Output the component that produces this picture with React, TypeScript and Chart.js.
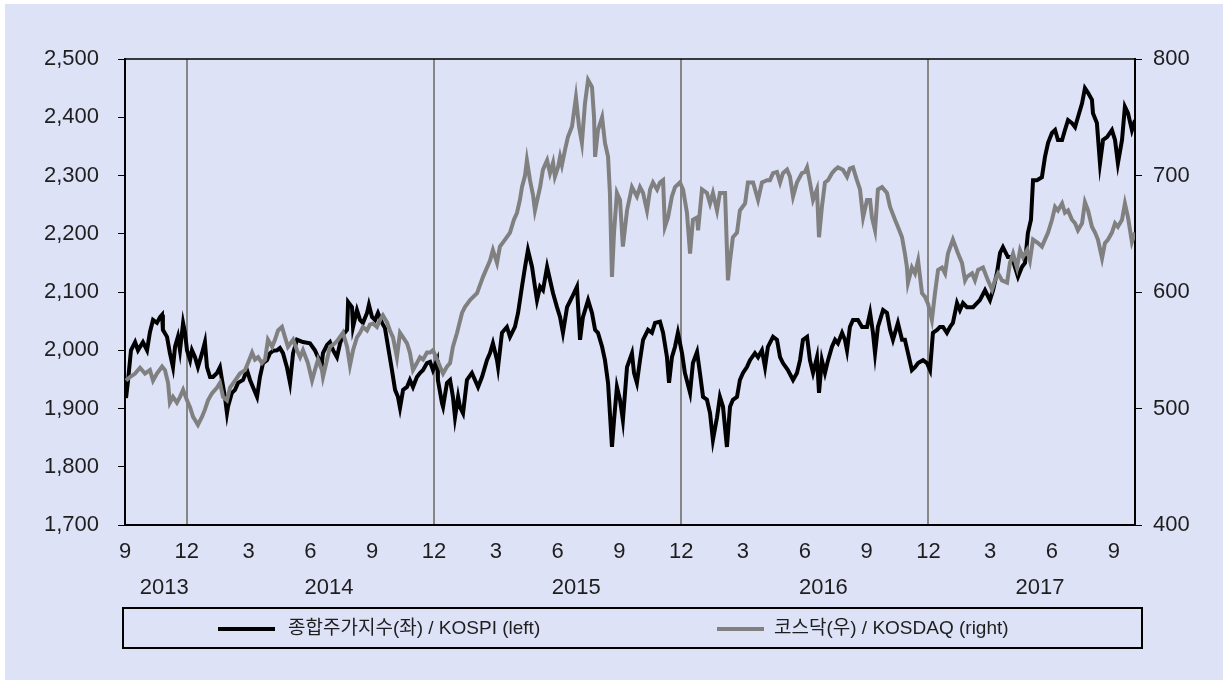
import { useEffect, useRef } from "react";
import { Chart, registerables } from "chart.js";

Chart.register(...registerables);

const FONT = "'Liberation Sans', Arial, 'Noto Sans CJK KR', sans-serif";
const BG = "#dee2f7";
const TEXT = "#1e1e1e";
const KOSPI_COLOR = "#000000";
const KOSDAQ_COLOR = "#808080";

// x = months elapsed since the start of September 2013
const X_END = 49.03;
const MONTH_TICKS = [0, 3, 6, 9, 12, 15, 18, 21, 24, 27, 30, 33, 36, 39, 42, 45, 48];
const MONTH_LABELS = ["9", "12", "3", "6", "9", "12", "3", "6", "9", "12", "3", "6", "9", "12", "3", "6", "9"];
const YEARS = ["2013", "2014", "2015", "2016", "2017"];
const YEAR_START = [0, 4, 16, 28, 40];
const YEAR_END = [4, 16, 28, 40, 49.03];
const LEFT_TICKS = [1700, 1800, 1900, 2000, 2100, 2200, 2300, 2400, 2500];
const RIGHT_TICKS = [400, 500, 600, 700, 800];
const LEGEND_KOSPI = "종합주가지수(좌) / KOSPI (left)";
const LEGEND_KOSDAQ = "코스닥(우) / KOSDAQ (right)";

const kospiT = [
  0.05, 0.15, 0.29, 0.49, 0.63, 0.87, 1.07, 1.21, 1.36, 1.55, 1.7, 1.8, 1.84, 2.04, 2.18, 2.33, 2.43, 2.57, 2.67, 2.82,
  2.91, 3.01, 3.16, 3.25, 3.4, 3.54, 3.74, 3.88, 3.98, 4.13, 4.27, 4.47, 4.61, 4.71, 4.85, 4.95, 5.0, 5.19, 5.34, 5.49,
  5.73, 5.92, 6.07, 6.21, 6.41, 6.55, 6.7, 6.89, 7.04, 7.18, 7.38, 7.52, 7.67, 7.86, 8.01,
  8.16, 8.35, 8.64, 8.98, 9.22, 9.37, 9.56, 9.61, 9.81, 9.95, 10.1, 10.29, 10.44, 10.58, 10.78, 10.83, 11.02, 11.07, 11.26, 11.41,
  11.55, 11.75, 11.84, 11.99, 12.14, 12.28, 12.48, 12.62, 12.77, 12.96, 13.11, 13.25, 13.35, 13.5, 13.69, 13.83, 13.98, 14.17, 14.32, 14.47,
  14.66, 14.81, 14.95, 15.15, 15.19, 15.39, 15.44, 15.63, 15.78, 15.92, 16.02, 16.17,
  16.26, 16.41, 16.6, 16.84, 16.99, 17.14, 17.33, 17.57, 17.72, 17.86, 18.06, 18.11, 18.3, 18.54, 18.69, 18.93, 19.08, 19.27, 19.42, 19.56,
  19.76, 19.9, 20.0, 20.15, 20.29, 20.49, 20.63, 20.78, 20.97, 21.12, 21.26, 21.46, 21.7, 21.94, 22.09, 22.23, 22.48, 22.67, 22.82, 22.96,
  23.16, 23.3, 23.45, 23.54, 23.64, 23.74, 23.88, 24.03, 24.17, 24.37, 24.61,
  24.71, 24.85, 25.0, 25.15, 25.39, 25.58, 25.73, 25.97, 26.12, 26.31, 26.41, 26.55, 26.7, 26.84, 27.04, 27.18, 27.43, 27.57, 27.77, 27.91,
  28.06, 28.25, 28.4, 28.54, 28.74, 28.88, 29.03, 29.22, 29.37, 29.51, 29.71, 29.85, 30.0, 30.19, 30.34, 30.58, 30.73, 30.92, 31.07, 31.21,
  31.46, 31.65, 31.8, 31.94, 32.18, 32.43, 32.62, 32.77, 32.91,
  33.11, 33.25, 33.4, 33.59, 33.69, 33.83, 33.98, 34.13, 34.32, 34.47, 34.61, 34.81, 34.95, 35.05, 35.19, 35.34, 35.58, 35.78, 36.02, 36.17,
  36.31, 36.41, 36.55, 36.8, 36.99, 37.14, 37.28, 37.52, 37.72, 37.86, 38.01, 38.2, 38.35, 38.5, 38.74, 38.93, 39.08, 39.22, 39.42, 39.56,
  39.71, 39.9, 40.05, 40.19, 40.39, 40.53, 40.68, 40.87,
  41.17, 41.5, 41.75, 41.99, 42.14, 42.33, 42.48, 42.62, 42.86, 43.06, 43.2, 43.35, 43.54, 43.69, 43.83, 43.98, 44.08, 44.27, 44.51, 44.66,
  44.81, 45.0, 45.15, 45.29, 45.49, 45.63, 45.78, 45.97, 46.12, 46.26, 46.46, 46.6, 46.75, 46.94, 46.99, 47.18, 47.33, 47.48, 47.67, 47.91,
  48.06, 48.2, 48.4, 48.54, 48.69, 48.88, 49.03,
];
const kospiV = [
  1918, 1949, 2000, 2014, 2000, 2014, 2000, 2031, 2052, 2047, 2057, 2061, 2035, 2023, 1995, 1971, 2006, 2023, 2000, 2047,
  2031, 2000, 1983, 2000, 1988, 1971, 1995, 2014, 1971, 1954, 1954, 1961, 1971, 1949, 1920, 1892, 1903, 1927, 1932, 1944,
  1949, 1966, 1949, 1937, 1920, 1954, 1978, 1983, 1995, 1999, 2000, 2004, 1995, 1971, 1944,
  1995, 2018, 2014, 2012, 2000, 1988, 1978, 1995, 2009, 2014, 2000, 1988, 2012, 2026, 2035, 2083, 2074, 2040, 2069, 2052,
  2047, 2064, 2078, 2057, 2052, 2064, 2047, 2038, 2006, 1966, 1932, 1920, 1901, 1932, 1937, 1949, 1937, 1954, 1961, 1966,
  1978, 1980, 1966, 1983, 1949, 1909, 1903, 1944, 1949, 1920, 1885, 1920,
  1903, 1892, 1949, 1961, 1949, 1937, 1954, 1983, 1995, 2012, 1983, 1971, 2030, 2040, 2023, 2040, 2064, 2109, 2143, 2172,
  2143, 2109, 2086, 2109, 2103, 2143, 2121, 2098, 2074, 2057, 2030, 2074, 2091, 2109, 2018, 2057, 2086, 2064, 2035, 2030,
  2006, 1983, 1944, 1892, 1834, 1880, 1937, 1915, 1880, 1971, 1995,
  1961, 1944, 1983, 2018, 2035, 2030, 2047, 2049, 2030, 1988, 1944, 1988, 2006, 2030, 1995, 1961, 1927, 1978, 1997, 1961,
  1920, 1915, 1892, 1846, 1885, 1920, 1903, 1834, 1903, 1915, 1920, 1949, 1961, 1971, 1983, 1995, 1988, 2000, 1971, 2006,
  2023, 2018, 1988, 1978, 1966, 1949, 1961, 1983, 2018,
  2023, 1983, 1961, 1988, 1927, 1983, 1961, 1983, 2006, 2018, 2012, 2030, 2018, 2000, 2040, 2052, 2052, 2040, 2040, 2064,
  2030, 1995, 2040, 2069, 2064, 2035, 2018, 2047, 2018, 2018, 1995, 1966, 1971, 1978, 1983, 1978, 1966, 2030, 2035, 2040,
  2040, 2030, 2040, 2047, 2081, 2069, 2081, 2074,
  2074, 2086, 2103, 2086, 2103, 2133, 2167, 2177, 2160, 2160, 2143, 2126, 2143, 2150, 2201, 2224, 2292, 2292, 2297, 2332,
  2356, 2373, 2378, 2361, 2361, 2378, 2395, 2390, 2383, 2400, 2424, 2450, 2442, 2430, 2407, 2390, 2321, 2361, 2366, 2378,
  2361, 2321, 2361, 2418, 2407, 2378, 2395,
];

const kosdaqT = [
  0.05, 0.24, 0.49, 0.73, 0.97, 1.21, 1.36, 1.55, 1.8, 1.94, 2.09, 2.18, 2.33, 2.52, 2.67, 2.82, 3.01, 3.16, 3.3, 3.54,
  3.74, 3.88, 4.03, 4.22, 4.47, 4.61, 4.76, 4.95, 5.1, 5.34, 5.58, 5.83, 5.97, 6.17, 6.31, 6.46, 6.65, 6.8, 6.94, 7.14,
  7.28, 7.43, 7.62, 7.77, 7.91,
  8.16, 8.35, 8.5, 8.64, 8.88, 9.08, 9.22, 9.37, 9.56, 9.61, 9.81, 9.95, 10.19, 10.34, 10.58, 10.78, 10.92, 11.07, 11.26, 11.41,
  11.55, 11.75, 11.89, 12.04, 12.23, 12.38, 12.52, 12.72, 12.86, 13.01, 13.2, 13.35, 13.5, 13.69, 13.83, 13.98, 14.17, 14.32, 14.47, 14.66,
  14.81, 14.95, 15.15, 15.29, 15.44, 15.63, 15.78, 15.92, 16.12, 16.36, 16.5,
  16.75, 17.09, 17.38, 17.72, 17.86, 18.06, 18.2, 18.45, 18.69, 18.88, 19.03, 19.17, 19.27, 19.42, 19.51, 19.66, 19.81, 19.9, 20.15, 20.29,
  20.49, 20.63, 20.78, 20.87, 21.02, 21.12, 21.21, 21.36, 21.5, 21.7, 21.89, 22.04, 22.18, 22.33, 22.48, 22.67, 22.77, 22.82, 22.96, 23.16,
  23.3, 23.45, 23.54, 23.64, 23.74, 23.88, 24.03, 24.17, 24.37, 24.61,
  24.85, 25.0, 25.15, 25.34, 25.49, 25.63, 25.83, 25.97, 26.12, 26.21, 26.36, 26.55, 26.7, 26.94, 27.09, 27.28, 27.43, 27.57, 27.77, 27.82,
  28.01, 28.25, 28.4, 28.54, 28.74, 28.88, 29.13, 29.27, 29.37, 29.51, 29.71, 29.85, 30.1, 30.24, 30.49, 30.73, 30.92, 31.17, 31.31, 31.46,
  31.65, 31.8, 31.94, 32.14, 32.28, 32.43, 32.62, 32.86,
  33.01, 33.11, 33.25, 33.4, 33.59, 33.69, 33.83, 33.98, 34.13, 34.32, 34.47, 34.61, 34.85, 35.05, 35.19, 35.34, 35.53, 35.68, 35.83, 36.02,
  36.17, 36.26, 36.41, 36.55, 36.75, 36.99, 37.14, 37.38, 37.52, 37.72, 37.86, 37.96, 38.01, 38.2, 38.35, 38.5, 38.69, 38.83, 38.98, 39.17,
  39.32, 39.47, 39.66, 39.81, 39.95, 40.19, 40.44, 40.63,
  40.78, 40.87, 41.12, 41.26, 41.41, 41.65, 41.89, 42.09, 42.23, 42.38, 42.57, 42.82, 42.96, 43.11, 43.3, 43.45, 43.59, 43.79, 43.93, 44.08,
  44.32, 44.51, 44.66, 44.81, 45.0, 45.15, 45.29, 45.49, 45.63, 45.78, 45.97, 46.12, 46.26, 46.46, 46.6, 46.75, 46.94, 47.09, 47.23, 47.43,
  47.57, 47.72, 47.91, 48.06, 48.2, 48.4, 48.54, 48.69, 48.88, 49.03,
];
const kosdaqV = [
  524, 527, 530, 535, 530, 533, 524, 530, 536, 533, 522, 505, 510, 505, 510, 516, 507, 501, 493, 486,
  493, 499, 507, 513, 518, 522, 510, 507, 518, 524, 530, 533, 539, 548, 542, 544, 539, 542, 559, 553,
  559, 567, 570, 561, 553,
  559, 550, 544, 550, 539, 524, 533, 542, 533, 527, 542, 553, 556, 559, 565, 553, 537, 550, 561, 565,
  570, 567, 572, 573, 570, 576, 580, 574, 567, 561, 544, 565, 561, 556, 548, 533, 539, 544, 542, 548,
  548, 550, 542, 536, 530, 536, 539, 553, 565, 582, 587,
  593, 599, 613, 627, 636, 625, 639, 645, 651, 662, 668, 679, 690, 700, 713, 696, 683, 670, 690, 705,
  713, 702, 711, 699, 707, 716, 709, 722, 733, 742, 767, 742, 728, 762, 782, 776, 750, 716, 739, 750,
  728, 716, 685, 613, 651, 685, 679, 639, 670, 690,
  682, 690, 685, 670, 688, 694, 688, 694, 696, 656, 664, 682, 690, 694, 688, 668, 633, 662, 664, 653,
  688, 685, 676, 685, 670, 685, 685, 610, 627, 647, 651, 670, 676, 694, 694, 679, 694, 696, 696, 702,
  703, 694, 702, 705, 699, 682, 694, 702,
  703, 707, 694, 679, 688, 647, 673, 694, 696, 702, 705, 707, 705, 699, 706, 707, 696, 688, 664, 679,
  679, 664, 653, 688, 690, 685, 673, 662, 656, 647, 633, 621, 608, 621, 616, 627, 599, 596, 590, 576,
  599, 619, 621, 616, 633, 645, 633, 625,
  610, 613, 616, 610, 619, 621, 610, 602, 610, 616, 610, 608, 625, 633, 621, 636, 630, 636, 627, 645,
  642, 639, 645, 651, 662, 673, 670, 676, 668, 670, 662, 659, 653, 659, 677, 670, 656, 651, 645, 629,
  642, 645, 651, 659, 656, 662, 676, 664, 643, 651,
];

function zip(t: number[], v: number[]) {
  const n = Math.min(t.length, v.length);
  const out: { x: number; y: number }[] = [];
  for (let i = 0; i < n; i++) out.push({ x: t[i], y: v[i] });
  return out;
}

const decorPlugin = {
  id: "decor",
  afterDraw(chart: any) {
    const { ctx, chartArea, scales } = chart;
    const { left, right, top, bottom } = chartArea;
    const x = scales.x;
    ctx.save();
    // top frame line
    ctx.strokeStyle = "#000";
    ctx.lineWidth = 1.5;
    ctx.beginPath();
    ctx.moveTo(left, top);
    ctx.lineTo(right + 1, top);
    ctx.stroke();

    // year labels
    ctx.fillStyle = TEXT;
    ctx.font = `22px ${FONT}`;
    ctx.textAlign = "center";
    ctx.textBaseline = "middle";
    YEARS.forEach((yr, i) => {
      const px = x.getPixelForValue((YEAR_START[i] + YEAR_END[i]) / 2);
      ctx.fillText(yr, px - 2, bottom + 63);
    });

    // legend box
    const bx = left - 2;
    const by = bottom + 83;
    const bw = right - left + 9;
    const bh = 40;
    ctx.lineWidth = 2;
    ctx.strokeStyle = "#000";
    ctx.strokeRect(bx, by, bw, bh);
    const cy = by + bh / 2 + 1;
    ctx.font = `19px ${FONT}`;
    ctx.textAlign = "left";
    ctx.lineWidth = 4;
    ctx.lineCap = "butt";
    // KOSPI
    ctx.strokeStyle = KOSPI_COLOR;
    ctx.beginPath();
    ctx.moveTo(left + 93, cy);
    ctx.lineTo(left + 150, cy);
    ctx.stroke();
    ctx.fillText(LEGEND_KOSPI, left + 163, cy);
    // KOSDAQ
    ctx.strokeStyle = KOSDAQ_COLOR;
    ctx.beginPath();
    ctx.moveTo(left + 592, cy);
    ctx.lineTo(left + 639, cy);
    ctx.stroke();
    ctx.fillText(LEGEND_KOSDAQ, left + 649, cy);
    ctx.restore();
  },
};

export default function App() {
  const ref = useRef<HTMLCanvasElement>(null);
  useEffect(() => {
    const chart = new Chart(ref.current!, {
      type: "line",
      data: {
        datasets: [
          {
            label: LEGEND_KOSPI,
            data: zip(kospiT, kospiV),
            yAxisID: "y",
            borderColor: KOSPI_COLOR,
            borderWidth: 4,
            pointRadius: 0,
            tension: 0,
            order: 1,
          },
          {
            label: LEGEND_KOSDAQ,
            data: zip(kosdaqT, kosdaqV),
            yAxisID: "y1",
            borderColor: KOSDAQ_COLOR,
            borderWidth: 4,
            pointRadius: 0,
            tension: 0,
            order: 0,
          },
        ],
      },
      options: {
        responsive: false,
        animation: false,
        layout: { padding: { left: 0, right: 0, top: 55, bottom: 0 } },
        plugins: { legend: { display: false }, tooltip: { enabled: false } },
        scales: {
          x: {
            type: "linear",
            min: 0,
            max: X_END,
            afterBuildTicks: (s: any) => {
              s.ticks = MONTH_TICKS.map((v) => ({ value: v }));
            },
            afterFit: (s: any) => {
              s.height = 155;
            },
            ticks: {
              autoSkip: false,
              maxRotation: 0,
              padding: 14,
              color: TEXT,
              font: { family: FONT, size: 22 },
              callback: (v: any) => MONTH_LABELS[MONTH_TICKS.indexOf(Number(v))] ?? "",
            },
            grid: {
              drawTicks: false,
              lineWidth: 2,
              color: (c: any) =>
                c.tick && c.tick.value > 0 && (c.tick.value - 3) % 12 === 0 ? "#868686" : "rgba(0,0,0,0)",
            },
            border: { display: true, color: "#000", width: 2 },
          },
          y: {
            position: "left",
            min: 1700,
            max: 2500,
            afterBuildTicks: (s: any) => {
              s.ticks = LEFT_TICKS.map((v) => ({ value: v }));
            },
            afterFit: (s: any) => {
              s.width = 120;
            },
            ticks: {
              padding: 19,
              color: TEXT,
              font: { family: FONT, size: 22 },
              callback: (v: any) => Number(v).toLocaleString("en-US"),
            },
            grid: { drawOnChartArea: false, drawTicks: true, tickLength: 7, color: "#000", tickColor: "#000" },
            border: { display: true, color: "#000", width: 2 },
          },
          y1: {
            position: "right",
            min: 400,
            max: 800,
            afterBuildTicks: (s: any) => {
              s.ticks = RIGHT_TICKS.map((v) => ({ value: v }));
            },
            afterFit: (s: any) => {
              s.width = 88;
            },
            ticks: {
              padding: 11,
              color: TEXT,
              font: { family: FONT, size: 22 },
              callback: (v: any) => String(v),
            },
            grid: { drawOnChartArea: false, drawTicks: true, tickLength: 7, color: "#000", tickColor: "#000" },
            border: { display: true, color: "#000", width: 2 },
          },
        },
      },
      plugins: [decorPlugin],
    } as any);
    return () => chart.destroy();
  }, []);

  return (
    <div style={{ position: "fixed", left: 0, top: 0, width: 1228, height: 684, background: "#ffffff" }}>
      <div style={{ position: "absolute", left: 5, top: 4, width: 1218, height: 676, background: BG }}>
        <canvas ref={ref} width={1218} height={676} style={{ display: "block" }} />
      </div>
    </div>
  );
}
